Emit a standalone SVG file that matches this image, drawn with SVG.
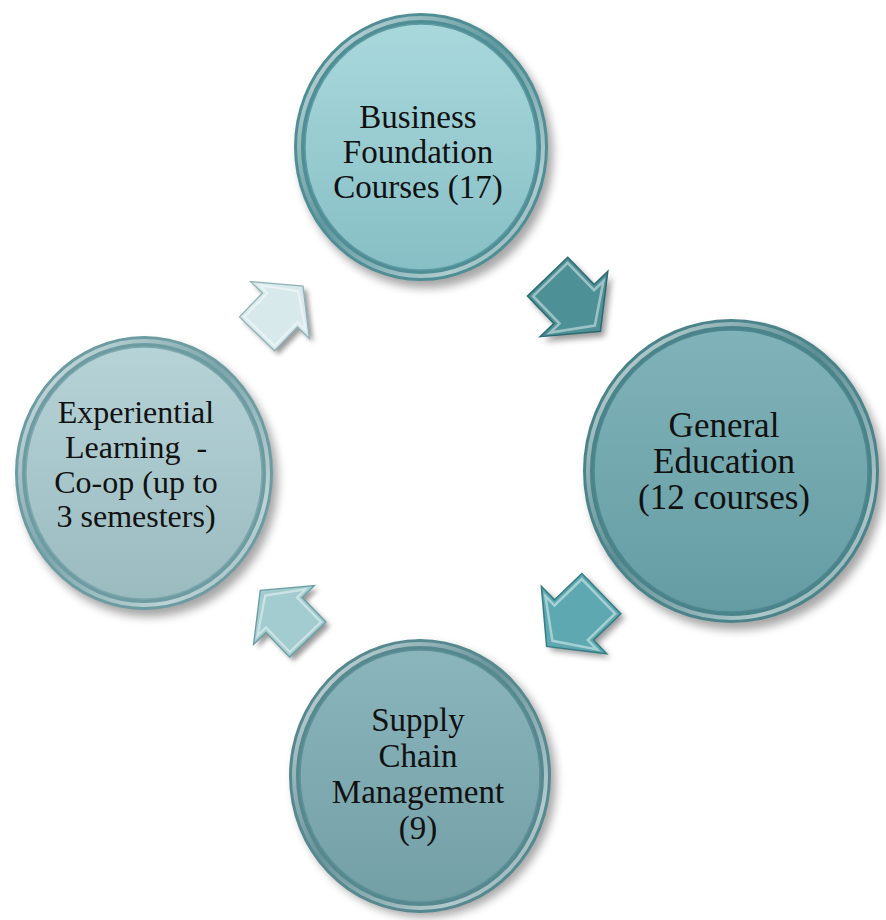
<svg xmlns="http://www.w3.org/2000/svg" xmlns:xlink="http://www.w3.org/1999/xlink" width="886" height="920" viewBox="0 0 886 920">
<style>
  .lbl { font-family: "Liberation Serif", "Times New Roman", serif; fill: #111; text-anchor: middle; }
  .shadow { fill: #000; opacity: 0.35; filter: url(#blur); }
  .hl { fill: none; stroke: url(#hlGrad); stroke-width: 4; }
  .inner { stroke-width: 1.5; }
  .ashadow { fill: #000; opacity: 0.4; filter: url(#blurS); }
  .abevel { fill: none; stroke: #ffffff; stroke-opacity: 0.45; stroke-width: 2.5; }
</style>
<defs>
  <filter id="blur" x="-20%" y="-20%" width="140%" height="140%"><feGaussianBlur stdDeviation="5"/></filter>
  <filter id="blurS" x="-30%" y="-30%" width="160%" height="160%"><feGaussianBlur stdDeviation="3"/></filter>
  <linearGradient id="hlGrad" x1="0" y1="0" x2="1" y2="1">
    <stop offset="0" stop-color="#ffffff" stop-opacity="0.75"/>
    <stop offset="0.45" stop-color="#ffffff" stop-opacity="0.1"/>
    <stop offset="0.8" stop-color="#ffffff" stop-opacity="0.55"/>
    <stop offset="1" stop-color="#ffffff" stop-opacity="0.2"/>
  </linearGradient>
  <linearGradient id="faceTop" x1="0" y1="0" x2="0" y2="1">
    <stop offset="0" stop-color="#a9d8dc"/><stop offset="1" stop-color="#86bfc5"/>
  </linearGradient>
  <linearGradient id="faceRight" x1="0" y1="0" x2="0" y2="1">
    <stop offset="0" stop-color="#80b3b9"/><stop offset="1" stop-color="#659ca3"/>
  </linearGradient>
  <linearGradient id="faceBottom" x1="0" y1="0" x2="0" y2="1">
    <stop offset="0" stop-color="#8ab5bc"/><stop offset="1" stop-color="#739fa7"/>
  </linearGradient>
  <linearGradient id="faceLeft" x1="0" y1="0" x2="0" y2="1">
    <stop offset="0" stop-color="#b6d3d7"/><stop offset="1" stop-color="#9abbc0"/>
  </linearGradient>
  <polygon id="arr" points="-38,-28 0,-28 0,-47 38,0 0,47 0,28 -38,28"/>
  <polygon id="arrIn" points="-34,-24 4,-24 4,-37 30,0 4,37 4,24 -34,24"/>
</defs>

<rect width="886" height="920" fill="#ffffff"/>

<g id="connectors">
  <g id="arrow1">
    <use xlink:href="#arr" class="ashadow" transform="translate(578,309) rotate(46)"/>
    <use xlink:href="#arr" transform="translate(574,304) rotate(46)" fill="#4d9197" stroke="#2c6a70" stroke-width="1.5"/>
    <use xlink:href="#arrIn" class="abevel" transform="translate(574,304) rotate(46)"/>
  </g>
  <g id="arrow2">
    <use xlink:href="#arr" class="ashadow" transform="translate(578,624) rotate(136)"/>
    <use xlink:href="#arr" transform="translate(574,620) rotate(136)" fill="#5ea9b1" stroke="#357c84" stroke-width="1.5"/>
    <use xlink:href="#arrIn" class="abevel" transform="translate(574,620) rotate(136)"/>
  </g>
  <g id="arrow3">
    <use xlink:href="#arr" class="ashadow" transform="translate(288,619) rotate(226) scale(0.9)"/>
    <use xlink:href="#arr" transform="translate(284,615) rotate(226) scale(0.9)" fill="#a2cccf" stroke="#6a9fa4" stroke-width="1.5"/>
    <use xlink:href="#arrIn" class="abevel" transform="translate(284,615) rotate(226) scale(0.9)"/>
  </g>
  <g id="arrow4">
    <use xlink:href="#arr" class="ashadow" transform="translate(284,314) rotate(-46) scale(0.87)"/>
    <use xlink:href="#arr" transform="translate(280,310) rotate(-46) scale(0.87)" fill="#d7e9eb" stroke="#8fb3b7" stroke-width="1.5"/>
    <use xlink:href="#arrIn" class="abevel" transform="translate(280,310) rotate(-46) scale(0.87)"/>
  </g>
</g>

<g id="node-business">
  <ellipse class="shadow" cx="426" cy="154" rx="127" ry="134"/>
  <ellipse cx="421" cy="147" rx="127" ry="134" fill="#4f8e95"/>
  <ellipse class="hl" cx="421" cy="147" rx="122" ry="129"/>
  <ellipse class="inner" cx="421" cy="147" rx="116" ry="123" fill="url(#faceTop)" stroke="#5e9ca2"/>
  <text class="lbl" font-size="33"><tspan x="418" y="128">Business</tspan><tspan x="418" y="163">Foundation</tspan><tspan x="418" y="198">Courses (17)</tspan></text>
</g>

<g id="node-general">
  <ellipse class="shadow" cx="736" cy="478" rx="148" ry="152"/>
  <ellipse cx="731" cy="471" rx="148" ry="152" fill="#4a8389"/>
  <ellipse class="hl" cx="731" cy="471" rx="143" ry="147"/>
  <ellipse class="inner" cx="731" cy="471" rx="137" ry="141" fill="url(#faceRight)" stroke="#4f8990"/>
  <text class="lbl" font-size="35"><tspan x="724" y="437">General</tspan><tspan x="724" y="473">Education</tspan><tspan x="724" y="509">(12 courses)</tspan></text>
</g>

<g id="node-supply">
  <ellipse class="shadow" cx="425" cy="781" rx="131" ry="136"/>
  <ellipse cx="420" cy="776" rx="131" ry="137" fill="#56888f"/>
  <ellipse class="hl" cx="420" cy="776" rx="126" ry="132"/>
  <ellipse class="inner" cx="420" cy="776" rx="120" ry="126" fill="url(#faceBottom)" stroke="#5f9198"/>
  <text class="lbl" font-size="33"><tspan x="418" y="731">Supply</tspan><tspan x="418" y="767">Chain</tspan><tspan x="418" y="803">Management</tspan><tspan x="418" y="839">(9)</tspan></text>
</g>

<g id="node-experiential">
  <ellipse class="shadow" cx="149" cy="480" rx="129" ry="137"/>
  <ellipse cx="144" cy="473" rx="129" ry="137" fill="#6c9ca2"/>
  <ellipse class="hl" cx="144" cy="473" rx="124" ry="132"/>
  <ellipse class="inner" cx="144" cy="473" rx="118" ry="126" fill="url(#faceLeft)" stroke="#7ea7ac"/>
  <text class="lbl" font-size="32"><tspan x="136" y="423">Experiential</tspan><tspan x="136" y="458" xml:space="preserve">Learning  -</tspan><tspan x="136" y="493">Co-op (up to</tspan><tspan x="136" y="527">3 semesters)</tspan></text>
</g>
</svg>
